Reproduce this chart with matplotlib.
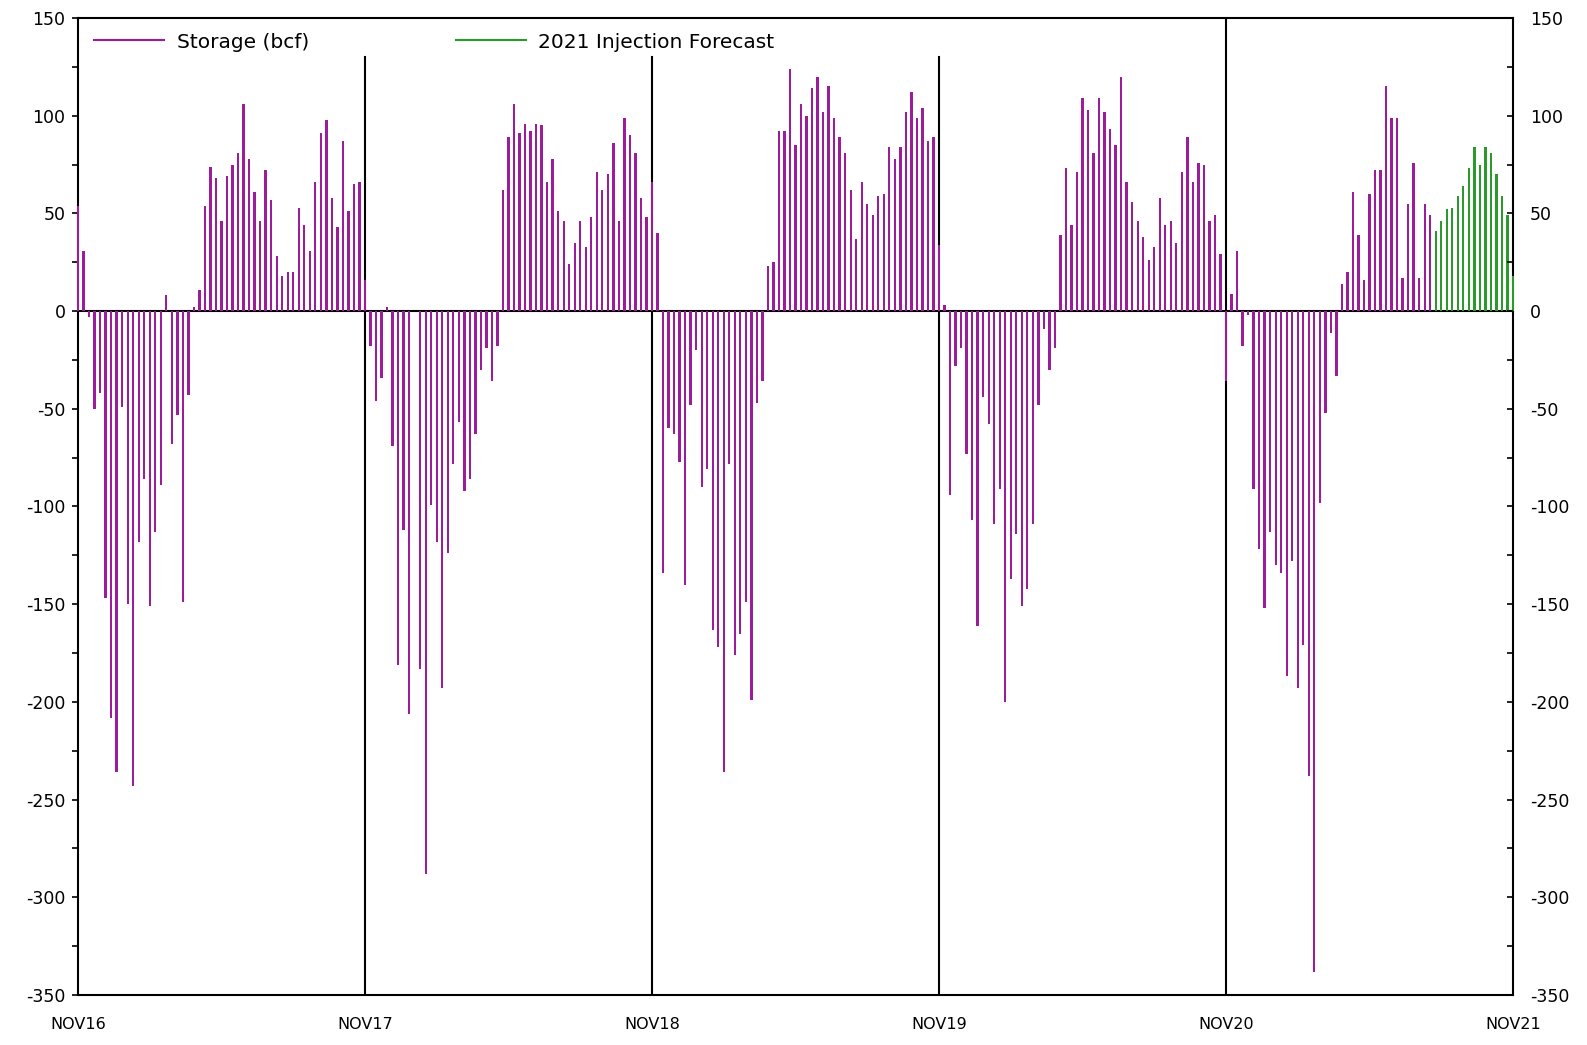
import numpy as np
import matplotlib
matplotlib.use("Agg")
import matplotlib.pyplot as plt
from matplotlib.ticker import MultipleLocator

plt.rcParams["axes.unicode_minus"] = False

# Weekly storage change (bcf), one list per gas year starting in November
y2016 = [54, 31, -3, -50, -42, -147, -208, -236, -49, -150, -243, -118, -86, -151, -113, -89, 8, -68, -53, -149,
         -43, 2, 11, 54, 74, 68, 46, 69, 75, 81, 106, 78, 61, 46, 72, 57, 28, 18, 20, 20, 53, 44, 31, 66, 91, 98,
         58, 43, 87, 51, 65, 66]
y2017 = [16, -18, -46, -34, 2, -69, -181, -112, -206, 0, -183, -288, -99, -118, -193, -124, -78, -57, -92, -86,
         -63, -30, -19, -36, -18, 62, 89, 106, 91, 96, 92, 96, 95, 66, 78, 51, 46, 24, 35, 46, 33, 48, 71, 62, 70,
         86, 46, 99, 90, 81, 58, 48]
y2018 = [66, 40, -134, -60, -63, -77, -140, -48, -20, -90, -81, -163, -172, -236, -78, -176, -165, -149, -199, -47,
         -36, 23, 25, 92, 92, 124, 85, 106, 100, 114, 120, 102, 115, 99, 89, 81, 62, 37, 66, 55, 49, 59, 60, 84,
         78, 84, 102, 112, 99, 104, 87, 89]
y2019 = [34, 3, -94, -28, -19, -73, -107, -161, -44, -58, -109, -91, -200, -137, -114, -151, -142, -109, -48, -9,
         -30, -19, 39, 73, 44, 71, 109, 103, 81, 109, 102, 93, 85, 120, 66, 56, 46, 38, 26, 33, 58, 44, 46, 35, 71,
         89, 66, 76, 75, 46, 49, 29]
y2020 = [-36, 9, 31, -18, -2, -91, -122, -152, -113, -130, -134, -187, -128, -193, -171, -238, -338, -98, -52, -11,
         -33, 14, 20, 61, 39, 16, 60, 72, 72, 115, 99, 99, 17, 55, 76, 17, 55, 49]
forecast2021 = [41, 46, 52, 53, 59, 64, 73, 84, 75, 84, 81, 70, 59, 49, 18]

tick_labels = ["NOV16", "NOV17", "NOV18", "NOV19", "NOV20", "NOV21"]
weeks_per_year = 52

storage = y2016 + y2017 + y2018 + y2019 + y2020
x_storage = np.arange(len(storage))
x_fc = np.arange(len(storage), len(storage) + len(forecast2021))

PURPLE = "#9c1c9c"
GREEN = "#2a9a2a"

fig = plt.figure(figsize=(15.87, 10.45), dpi=100)
ax = fig.add_axes([78 / 1587, 1 - 995 / 1045, (1513 - 78) / 1587, (995 - 18) / 1045])

ax.bar(x_storage, storage, width=0.42, color=PURPLE, linewidth=0, zorder=5, clip_on=False)
ax.bar(x_fc, forecast2021, width=0.42, color=GREEN, linewidth=0, zorder=5, clip_on=False)

ax.axhline(0, color="black", lw=1.5, zorder=3)
year_x = [k * weeks_per_year for k in range(len(tick_labels))]
for k, xv in enumerate(year_x[1:-1], start=1):
    top = 1.0 if k == 4 else (130 + 350) / 500
    ax.axvline(xv, ymin=0, ymax=top, color="black", lw=1.5, zorder=3)

ax.set_xlim(0, year_x[-1])
ax.set_ylim(-350, 150)
ax.yaxis.set_major_locator(MultipleLocator(50))
ax.yaxis.set_minor_locator(MultipleLocator(25))
ax.set_xticks(year_x)
ax.set_xticklabels(tick_labels)

for s in ax.spines.values():
    s.set_linewidth(1.5)

ax.tick_params(axis="y", which="both", direction="out", length=4, width=1.2,
               labelsize=12.5, pad=5)
ax.tick_params(axis="x", length=0, labelsize=11.5, pad=16)

ax2 = ax.twinx()
ax2.set_ylim(-350, 150)
ax2.yaxis.set_major_locator(MultipleLocator(50))
ax2.yaxis.set_minor_locator(MultipleLocator(25))
ax2.tick_params(axis="y", which="both", direction="in", length=4, width=1.2,
                labelsize=12.5, pad=12)
for s in ax2.spines.values():
    s.set_visible(False)

ax.plot([], [], color=PURPLE, lw=1.5, label="Storage (bcf)")
ax.plot([], [], color=GREEN, lw=1.5, label="2021 Injection Forecast")
ax.legend(loc="center left", bbox_to_anchor=(16 / 1435, 1 - 24 / 977), ncol=2, frameon=False,
          fontsize=14.5, handlelength=3.5, handletextpad=0.6, columnspacing=7.3,
          borderpad=0, borderaxespad=0)

fig.savefig("out.png", dpi=100)
